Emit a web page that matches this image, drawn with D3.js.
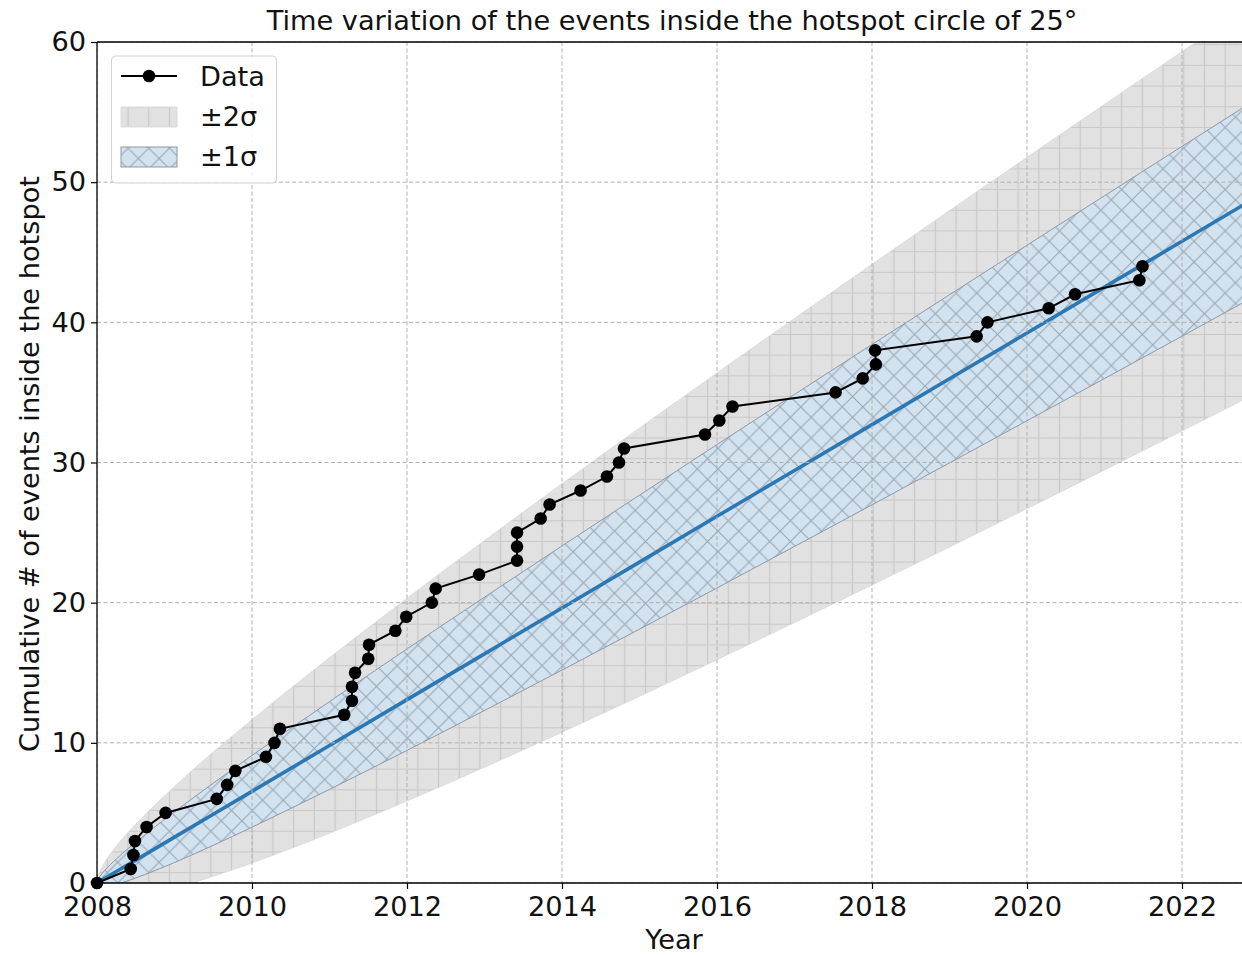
<!DOCTYPE html>
<html>
<head>
<meta charset="utf-8">
<script src="https://cdn.jsdelivr.net/npm/d3@7"></script>
<style>
  html, body { margin: 0; padding: 0; background: #fff; }
  svg { display: block; font-family: "DejaVu Sans", sans-serif; }
</style>
</head>
<body>
<svg id="chart" width="1242" height="955"></svg>
<script>
// Observed cumulative events (decimal year, running count)
const eventYears = [
  2008.0, 2008.435, 2008.47, 2008.49, 2008.64, 2008.885, 2009.545, 2009.68, 2009.785,
  2010.18, 2010.29, 2010.36, 2011.19, 2011.29, 2011.29, 2011.33, 2011.5, 2011.51,
  2011.85, 2011.99, 2012.32, 2012.37, 2012.93, 2013.42, 2013.42, 2013.42, 2013.725,
  2013.84, 2014.24, 2014.58, 2014.735, 2014.8, 2015.845, 2016.03, 2016.2, 2017.53,
  2017.88, 2018.05, 2018.04, 2019.35, 2019.49, 2020.28, 2020.62, 2021.45, 2021.49
];
const eventCounts = [
  0, 1, 2, 3, 4, 5, 6, 7, 8, 9, 10, 11, 12, 13, 14, 15, 16, 17, 18, 19, 20, 21, 22,
  23, 24, 25, 26, 27, 28, 29, 30, 31, 32, 33, 34, 35, 36, 37, 38, 39, 40, 41, 42, 43, 44
];

// Expected count and its ±1σ / ±2σ envelopes
const modelYears = [
  2008, 2008.02, 2008.05, 2008.1, 2008.25, 2008.5, 2008.75, 2009, 2009.5, 2010, 2011,
  2012, 2013, 2014, 2015, 2016, 2017, 2018, 2019, 2020, 2021, 2022, 2022.8
];
const modelMean = [
  0, 0.065, 0.164, 0.327, 0.818, 1.635, 2.453, 3.27, 4.905, 6.54, 9.81,
  13.08, 16.35, 19.62, 22.89, 26.16, 29.43, 32.7, 35.97, 39.24, 42.51, 45.78, 48.40
];
const sigma1Low = [
  0, -0.19, -0.24, -0.25, -0.09, 0.36, 0.89, 1.46, 2.69, 3.98, 6.68,
  9.46, 12.31, 15.19, 18.11, 21.05, 24.01, 26.98, 29.97, 32.98, 35.99, 39.01, 41.44
];
const sigma1High = [
  0, 0.32, 0.57, 0.90, 1.72, 2.91, 4.02, 5.08, 7.12, 9.10, 12.94,
  16.70, 20.39, 24.05, 27.67, 31.28, 34.86, 38.42, 41.97, 45.50, 49.03, 52.55, 55.36
];
const sigma2Low = [
  0, -0.45, -0.65, -0.82, -0.99, -0.92, -0.68, -0.35, 0.48, 1.43, 3.55,
  5.85, 8.26, 10.76, 13.32, 15.93, 18.58, 21.26, 23.97, 26.71, 29.47, 32.25, 34.49
];
const sigma2High = [
  0, 0.58, 0.97, 1.47, 2.63, 4.19, 5.58, 6.89, 9.34, 11.65, 16.07,
  20.31, 24.44, 28.48, 32.46, 36.39, 40.28, 44.14, 47.97, 51.77, 55.55, 59.31, 62.31
];

const xTicks = [2008, 2010, 2012, 2014, 2016, 2018, 2020, 2022];
const yTicks = [0, 10, 20, 30, 40, 50, 60];

const titleText = "Time variation of the events inside the hotspot circle of 25°";
const xLabel = "Year";
const yLabel = "Cumulative # of events inside the hotspot";
const legendLabels = ["Data", "±2σ", "±1σ"];

// Layout
const plot = { left: 97, right: 1244, top: 42, bottom: 883 };
const svg = d3.select("#chart");

const x = d3.scaleLinear().domain([2008, 2022.8]).range([plot.left, plot.right]);
const y = d3.scaleLinear().domain([0, 60]).range([plot.bottom, plot.top]);

const defs = svg.append("defs");
defs.append("clipPath").attr("id", "plotClip")
  .append("rect")
  .attr("x", plot.left).attr("y", plot.top)
  .attr("width", plot.right - plot.left).attr("height", plot.bottom - plot.top);

// Hatch patterns: '+' grid for the 2σ band, 'x' cross for the 1σ band
const hatch = 20.7;
const plus = defs.append("pattern").attr("id", "hatchPlus")
  .attr("patternUnits", "userSpaceOnUse")
  .attr("width", hatch).attr("height", hatch)
  .attr("x", plot.left).attr("y", plot.bottom);
plus.append("rect").attr("width", hatch).attr("height", hatch).attr("fill", "#e1e1e1");
plus.append("path")
  .attr("d", `M${hatch / 2},0V${hatch}M0,${hatch / 2}H${hatch}`)
  .attr("stroke", "#c8c8c8").attr("stroke-width", 1.2);

const cross = defs.append("pattern").attr("id", "hatchCross")
  .attr("patternUnits", "userSpaceOnUse")
  .attr("width", hatch).attr("height", hatch)
  .attr("x", plot.left).attr("y", plot.bottom);
cross.append("rect").attr("width", hatch).attr("height", hatch).attr("fill", "#d2e2ef");
cross.append("path")
  .attr("d", `M0,0L${hatch},${hatch}M${hatch},0L0,${hatch}`)
  .attr("stroke", "#98a8b6").attr("stroke-width", 1.1);

const bands = svg.append("g").attr("clip-path", "url(#plotClip)");

const rows = modelYears.map((yr, i) => ({
  yr, mean: modelMean[i],
  lo1: sigma1Low[i], hi1: sigma1High[i],
  lo2: sigma2Low[i], hi2: sigma2High[i]
}));

const area2 = d3.area().curve(d3.curveMonotoneX)
  .x(d => x(d.yr)).y0(d => y(d.lo2)).y1(d => y(d.hi2));
const area1 = d3.area().curve(d3.curveMonotoneX)
  .x(d => x(d.yr)).y0(d => y(d.lo1)).y1(d => y(d.hi1));

bands.append("path").datum(rows).attr("d", area2)
  .attr("fill", "url(#hatchPlus)").attr("stroke", "#d8d8d8").attr("stroke-width", 0.8);
bands.append("path").datum(rows).attr("d", area1)
  .attr("fill", "url(#hatchCross)").attr("stroke", "#8d99a4").attr("stroke-width", 1);

// Dashed grid
const grid = svg.append("g").attr("clip-path", "url(#plotClip)");
grid.selectAll("line.gx").data(xTicks).join("line")
  .attr("x1", d => x(d)).attr("x2", d => x(d))
  .attr("y1", plot.top).attr("y2", plot.bottom)
  .attr("stroke", "#b0b0b0").attr("stroke-width", 1).attr("stroke-dasharray", "4,2.5");
grid.selectAll("line.gy").data(yTicks).join("line")
  .attr("x1", plot.left).attr("x2", plot.right)
  .attr("y1", d => y(d)).attr("y2", d => y(d))
  .attr("stroke", "#b0b0b0").attr("stroke-width", 1).attr("stroke-dasharray", "4,2.5");

// Expected count line
bands.append("path").datum(rows)
  .attr("d", d3.line().x(d => x(d.yr)).y(d => y(d.mean)))
  .attr("fill", "none").attr("stroke", "#2b78b4").attr("stroke-width", 3.6);

// Observed data
const pts = eventYears.map((yr, i) => ({ yr, n: eventCounts[i] }));
const dataG = svg.append("g");
dataG.append("path").datum(pts)
  .attr("d", d3.line().x(d => x(d.yr)).y(d => y(d.n)))
  .attr("fill", "none").attr("stroke", "#000").attr("stroke-width", 2);
dataG.selectAll("circle").data(pts).join("circle")
  .attr("cx", d => x(d.yr)).attr("cy", d => y(d.n)).attr("r", 6.3).attr("fill", "#000");

// Axes
const fontSize = 27.2;
const xAxis = svg.append("g").attr("transform", `translate(0,${plot.bottom})`)
  .call(d3.axisBottom(x).tickValues(xTicks).tickFormat(d3.format("d")).tickSizeOuter(0).tickSize(6).tickPadding(8));
const yAxis = svg.append("g").attr("transform", `translate(${plot.left},0)`)
  .call(d3.axisLeft(y).tickValues(yTicks).tickSizeOuter(0).tickSize(6).tickPadding(5));
[xAxis, yAxis].forEach(g => {
  g.select(".domain").remove();
  g.selectAll(".tick line").attr("stroke", "#000").attr("stroke-width", 1.2);
  g.selectAll(".tick text").attr("font-size", fontSize).attr("fill", "#111")
    .attr("font-family", "DejaVu Sans");
});

// Spines
const spines = svg.append("g").attr("stroke", "#000").attr("stroke-width", 1.3);
spines.append("line").attr("x1", plot.left).attr("x2", plot.left).attr("y1", plot.top).attr("y2", plot.bottom);
spines.append("line").attr("x1", plot.left).attr("x2", plot.right).attr("y1", plot.bottom).attr("y2", plot.bottom);
spines.append("line").attr("x1", plot.left).attr("x2", plot.right).attr("y1", plot.top).attr("y2", plot.top);
spines.append("line").attr("x1", plot.right).attr("x2", plot.right).attr("y1", plot.top).attr("y2", plot.bottom);

// Titles
svg.append("text").attr("x", 672).attr("y", 30).attr("text-anchor", "middle")
  .attr("font-size", fontSize).attr("fill", "#111").text(titleText);
svg.append("text").attr("x", 674).attr("y", 949).attr("text-anchor", "middle")
  .attr("font-size", fontSize).attr("fill", "#111").text(xLabel);
svg.append("text").attr("transform", "translate(39,464) rotate(-90)").attr("text-anchor", "middle")
  .attr("font-size", fontSize).attr("fill", "#111").text(yLabel);

// Legend
const lg = svg.append("g");
lg.append("rect").attr("x", 111.5).attr("y", 56).attr("width", 165).attr("height", 127)
  .attr("rx", 4).attr("fill", "#fff").attr("fill-opacity", 0.85)
  .attr("stroke", "#d0d0d0").attr("stroke-width", 1);
lg.append("line").attr("x1", 121).attr("x2", 177).attr("y1", 76).attr("y2", 76)
  .attr("stroke", "#000").attr("stroke-width", 2);
lg.append("circle").attr("cx", 149).attr("cy", 76).attr("r", 6.3).attr("fill", "#000");
lg.append("rect").attr("x", 121).attr("y", 107).attr("width", 56).attr("height", 20)
  .attr("fill", "url(#hatchPlus)").attr("stroke", "#d8d8d8").attr("stroke-width", 0.8);
lg.append("rect").attr("x", 121).attr("y", 147).attr("width", 56).attr("height", 20)
  .attr("fill", "url(#hatchCross)").attr("stroke", "#8d99a4").attr("stroke-width", 1);
lg.selectAll("text.lbl").data(legendLabels).join("text")
  .attr("x", 200).attr("y", (d, i) => 76 + i * 40).attr("dy", "0.36em")
  .attr("font-size", fontSize).attr("fill", "#111").text(d => d);
</script>
</body>
</html>
